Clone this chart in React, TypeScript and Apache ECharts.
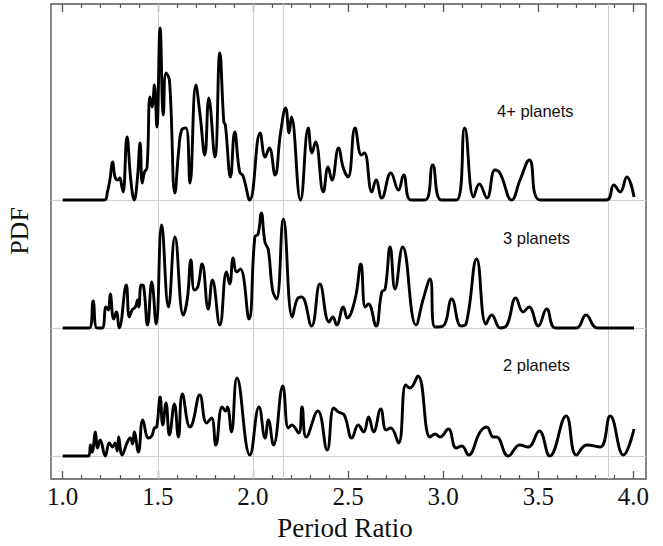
import React, { useEffect, useRef } from "react";
import * as echarts from "echarts";

// Period ratio axis
const xMin = 0.9385;
const xMax = 4.066;
const majorTicks = [1.0, 1.5, 2.0, 2.5, 3.0, 3.5, 4.0];
const minorTicks = [1.1, 1.2, 1.3, 1.4, 1.6, 1.7, 1.8, 1.9, 2.1, 2.2, 2.3, 2.4, 2.6, 2.7, 2.8, 2.9, 3.1, 3.2, 3.3, 3.4, 3.6, 3.7, 3.8, 3.9];
const refLines = [1.5, 2.0, 2.16, 3.87];

// 4+ planets (PDF, arbitrary units)
const ratio4 = [1.0, 1.22, 1.235, 1.248, 1.263, 1.275, 1.29, 1.3, 1.312, 1.318, 1.338, 1.358, 1.376, 1.392, 1.407, 1.418, 1.43, 1.443, 1.459, 1.47, 1.482, 1.495, 1.512, 1.529, 1.543, 1.561, 1.59, 1.61, 1.625, 1.648, 1.669, 1.7, 1.721, 1.747, 1.768, 1.8, 1.826, 1.847, 1.855, 1.882, 1.904, 1.93, 1.948, 1.983, 2.038, 2.064, 2.086, 2.116, 2.145, 2.172, 2.19, 2.202, 2.25, 2.291, 2.31, 2.329, 2.37, 2.395, 2.415, 2.45, 2.475, 2.5, 2.537, 2.57, 2.586, 2.625, 2.647, 2.677, 2.725, 2.765, 2.792, 2.83, 2.905, 2.945, 2.99, 3.07, 3.113, 3.16, 3.19, 3.23, 3.272, 3.298, 3.36, 3.404, 3.453, 3.51, 3.857, 3.897, 3.93, 3.965, 4.003];
const pdf4 = [0, 0, 8, 20, 38, 23, 20, 22, 12, 8, 63, 20, 0, 20, 57, 17, 28, 32, 103, 93, 115, 73, 172, 85, 127, 120, 7, 50, 70, 72, 17, 115, 87, 45, 102, 43, 147, 78, 75, 23, 68, 28, 24, 0, 67, 43, 52, 25, 67, 92, 67, 83, 0, 72, 47, 58, 8, 33, 20, 52, 32, 23, 72, 45, 47, 8, 20, 2, 27, 10, 25, 0, 0, 35, 0, 0, 72, 3, 16, 2, 30, 27, 0, 20, 40, 0, 0, 15, 8, 23, 3];

// 3 planets
const ratio3 = [1.0, 1.14, 1.16, 1.18, 1.207, 1.228, 1.24, 1.25, 1.268, 1.282, 1.297, 1.334, 1.35, 1.365, 1.382, 1.394, 1.4, 1.413, 1.425, 1.446, 1.468, 1.491, 1.52, 1.556, 1.59, 1.634, 1.655, 1.674, 1.692, 1.71, 1.733, 1.765, 1.787, 1.826, 1.861, 1.878, 1.896, 1.914, 1.934, 1.979, 2.01, 2.027, 2.044, 2.063, 2.081, 2.103, 2.124, 2.16, 2.207, 2.233, 2.256, 2.308, 2.352, 2.4, 2.42, 2.44, 2.475, 2.495, 2.537, 2.567, 2.59, 2.607, 2.647, 2.677, 2.695, 2.721, 2.747, 2.787, 2.857, 2.895, 2.931, 2.957, 3.0, 3.045, 3.093, 3.12, 3.176, 3.225, 3.255, 3.3, 3.335, 3.382, 3.42, 3.451, 3.5, 3.544, 3.59, 3.7, 3.751, 3.81, 4.003];
const pdf3 = [0, 0, 27, 0, 0, 21, 18, 34, 9, 16, 0, 43, 11, 18, 21, 28, 21, 43, 42, 3, 46, 4, 103, 21, 91, 13, 29, 68, 38, 41, 64, 19, 48, 3, 56, 44, 70, 56, 59, 9, 91, 94, 115, 86, 78, 38, 29, 109, 11, 29, 31, 2, 44, 6, 11, 3, 21, 10, 29, 64, 21, 24, 2, 36, 39, 81, 39, 81, 3, 29, 49, 1, 2, 29, 2, 4, 69, 4, 13, 0, 3, 30, 16, 21, 2, 19, 0, 0, 13, 0, 0];

// 2 planets
const ratio2 = [1.0, 1.137, 1.146, 1.155, 1.172, 1.183, 1.197, 1.224, 1.245, 1.262, 1.275, 1.287, 1.294, 1.312, 1.34, 1.355, 1.368, 1.376, 1.398, 1.421, 1.451, 1.468, 1.482, 1.494, 1.512, 1.526, 1.543, 1.561, 1.587, 1.608, 1.629, 1.669, 1.683, 1.721, 1.756, 1.782, 1.805, 1.838, 1.856, 1.866, 1.887, 1.916, 1.984, 2.032, 2.064, 2.081, 2.108, 2.157, 2.186, 2.204, 2.24, 2.258, 2.28, 2.341, 2.39, 2.425, 2.45, 2.48, 2.52, 2.554, 2.582, 2.608, 2.634, 2.672, 2.7, 2.724, 2.765, 2.803, 2.825, 2.867, 2.931, 2.957, 2.983, 3.027, 3.068, 3.098, 3.133, 3.194, 3.229, 3.263, 3.28, 3.342, 3.403, 3.447, 3.505, 3.56, 3.646, 3.7, 3.755, 3.825, 3.878, 3.947, 4.003];
const pdf2 = [0, 0, 11, 4, 24, 8, 16, 0, 13, 9, 13, 5, 19, 1, 14, 18, 12, 24, 4, 36, 18, 20, 28, 29, 59, 31, 53, 21, 52, 19, 62, 29, 33, 61, 33, 38, 11, 49, 45, 49, 24, 78, 1, 49, 18, 36, 11, 70, 28, 31, 23, 49, 19, 45, 6, 48, 44, 41, 18, 31, 24, 39, 24, 47, 26, 28, 13, 71, 68, 80, 19, 22, 19, 27, 8, 10, 1, 24, 29, 19, 19, 0, 11, 9, 25, 0, 40, 1, 11, 9, 40, 1, 27];

const panelNames = ["4+ planets", "3 planets", "2 planets"];

const zip = (xs: number[], ys: number[]) => xs.map((x, i) => [x, ys[i]]);

export default function App() {
  const ref = useRef<HTMLDivElement>(null);
  useEffect(() => {
    document.body.style.margin = "0";
    const chart = echarts.init(ref.current!, null, { renderer: "svg" });
    const frame = "#555";
    const serif = "'Liberation Serif', 'DejaVu Serif', serif";
    const sans = "'Liberation Sans', Arial, sans-serif";
    const baseX = {
      type: "value",
      min: xMin,
      max: xMax,
      splitLine: { show: false },
      axisLine: { show: false, onZero: false },
    };
    const curve = (data: number[][], yIdx: number) => ({
      type: "line",
      xAxisIndex: 0,
      yAxisIndex: yIdx,
      data,
      smooth: 0.45,
      showSymbol: false,
      symbol: "none",
      z: 5,
      lineStyle: { color: "#000", width: 2.9 },
      markLine: {
        silent: true,
        symbol: "none",
        label: { show: false },
        lineStyle: { color: "#cfcfcf", width: 1, type: "solid" },
        data: [{ yAxis: 0 }],
        z: 1,
      },
    });
    chart.setOption({
      animation: false,
      grid: {
        left: 51,
        right: 17,
        top: 4,
        bottom: 67,
        show: true,
        borderColor: frame,
        borderWidth: 1.4,
        backgroundColor: "transparent",
      },
      xAxis: [
        {
          ...baseX,
          position: "bottom",
          axisTick: { inside: true, length: 8, customValues: majorTicks, lineStyle: { color: frame, width: 1.3 } },
          axisLabel: {
            customValues: majorTicks,
            formatter: (v: number) => v.toFixed(1),
            fontFamily: serif,
            fontSize: 25,
            color: "#111",
            margin: 5,
          },
        },
        {
          ...baseX,
          position: "top",
          axisTick: { inside: true, length: 8, customValues: majorTicks, lineStyle: { color: frame, width: 1.3 } },
          axisLabel: { show: false },
        },
        {
          ...baseX,
          position: "bottom",
          axisTick: { inside: true, length: 4, customValues: minorTicks, lineStyle: { color: frame, width: 1.2 } },
          axisLabel: { show: false },
        },
        {
          ...baseX,
          position: "top",
          axisTick: { inside: true, length: 4, customValues: minorTicks, lineStyle: { color: frame, width: 1.2 } },
          axisLabel: { show: false },
        },
      ],
      yAxis: [
        { type: "value", min: -279, max: 196, show: false, splitLine: { show: false } },
        { type: "value", min: -151, max: 324, show: false, splitLine: { show: false } },
        { type: "value", min: -23, max: 452, show: false, splitLine: { show: false } },
      ],
      series: [
        {
          type: "line",
          xAxisIndex: 0,
          yAxisIndex: 0,
          data: [],
          z: 1,
          markLine: {
            silent: true,
            symbol: "none",
            label: { show: false },
            lineStyle: { color: "#cfcfcf", width: 1, type: "solid" },
            data: refLines.map((v) => ({ xAxis: v })),
          },
        },
        curve(zip(ratio4, pdf4), 0),
        curve(zip(ratio3, pdf3), 1),
        curve(zip(ratio2, pdf2), 2),
      ],
      graphic: [
        { type: "text", x: 497, y: 111, style: { text: panelNames[0], font: `16.5px ${sans}`, fill: "#111", textVerticalAlign: "middle" } },
        { type: "text", x: 503, y: 238, style: { text: panelNames[1], font: `16.5px ${sans}`, fill: "#111", textVerticalAlign: "middle" } },
        { type: "text", x: 503, y: 365, style: { text: panelNames[2], font: `16.5px ${sans}`, fill: "#111", textVerticalAlign: "middle" } },
        {
          type: "text",
          x: 19,
          y: 231,
          rotation: Math.PI / 2,
          style: { text: "PDF", font: `26px ${serif}`, fill: "#111", textAlign: "center", textVerticalAlign: "middle" },
        },
        {
          type: "text",
          x: 345,
          y: 528,
          style: { text: "Period Ratio", font: `27px ${serif}`, fill: "#111", textAlign: "center", textVerticalAlign: "middle" },
        },
      ],
    });
    return () => chart.dispose();
  }, []);
  return <div ref={ref} style={{ width: 663, height: 546 }} />;
}
